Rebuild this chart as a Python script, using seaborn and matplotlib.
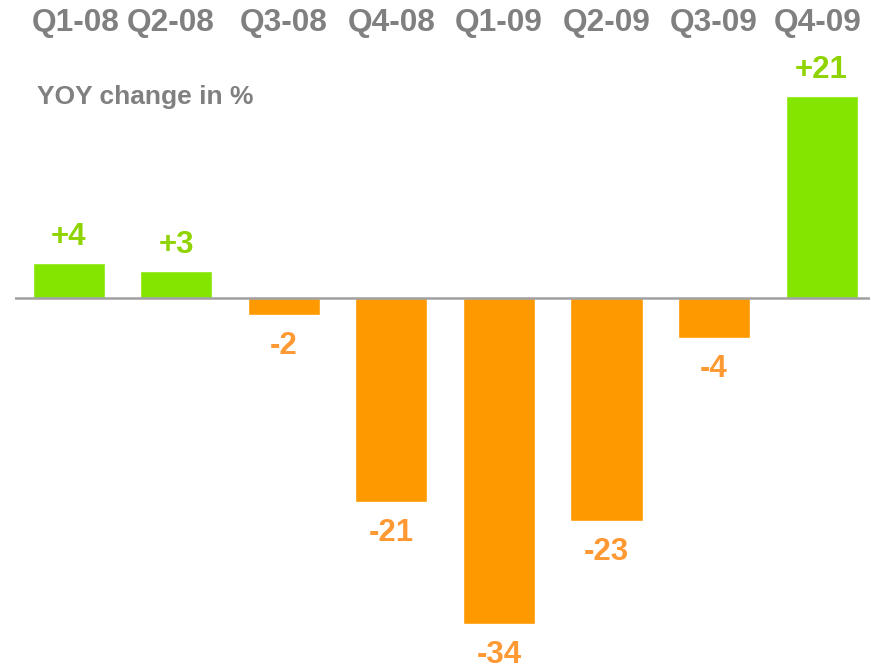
import matplotlib
matplotlib.use("Agg")
import matplotlib.pyplot as plt
import matplotlib.transforms as mtransforms
import seaborn as sns
import pandas as pd

quarters = ["Q1-08", "Q2-08", "Q3-08", "Q4-08", "Q1-09", "Q2-09", "Q3-09", "Q4-09"]
yoy_change = [3.6, 2.8, -1.8, -21.3, -34.0, -23.2, -4.2, 21.0]
subtitle = "YOY change in %"

df = pd.DataFrame({"quarter": quarters, "change": yoy_change})
df["sign"] = ["pos" if v >= 0 else "neg" for v in yoy_change]

sns.set_theme(style="white")
plt.rcParams["font.family"] = ["Liberation Sans", "DejaVu Sans"]

fig = plt.figure(figsize=(8.71, 6.67), dpi=100)
ax = fig.add_axes([15 / 871, 0, 855 / 871, 1])

sns.barplot(data=df, x="quarter", y="change", hue="sign",
            palette={"pos": "#84E600", "neg": "#FF9900"},
            order=quarters, width=0.67, dodge=False, legend=False,
            saturation=1, ax=ax)

ax.set_xlim(-0.5, 7.45)
ax.set_ylim(-38.44, 31.04)
ax.axhline(0, color="#A0A0A0", lw=1.8, zorder=5)
for s in ax.spines.values():
    s.set_visible(False)
ax.set_xticks([])
ax.set_yticks([])
ax.set_xlabel("")
ax.set_ylabel("")

# small horizontal nudges (points) to mimic the reference header placement
label_nudge = [5, -4, 0, 0, 0, 0, 0, -3]
trans = mtransforms.blended_transform_factory(ax.transData, ax.transAxes)
for i, q in enumerate(quarters):
    ax.annotate(q, xy=(i, 1 - 23 / 667), xycoords=trans,
                xytext=(label_nudge[i], 0), textcoords="offset points",
                ha="center", va="center",
                fontsize=22.8, fontweight="bold", color="#808080")

ax.text((37 - 15) / 855, 1 - 97 / 667, subtitle, transform=ax.transAxes,
        ha="left", va="center", fontsize=19, fontweight="bold", color="#808080")

for i, v in enumerate(yoy_change):
    label = f"{int(round(v)):+d}"
    if v >= 0:
        color = "#8FD400"
        off = 26 * 72 / 100
    else:
        color = "#FF9933"
        off = -31 * 72 / 100
    ax.annotate(label, xy=(i, v), xytext=(0, off), textcoords="offset points",
                ha="center", va="center", fontsize=22.5, fontweight="bold", color=color)

fig.savefig("out.png", dpi=100)
